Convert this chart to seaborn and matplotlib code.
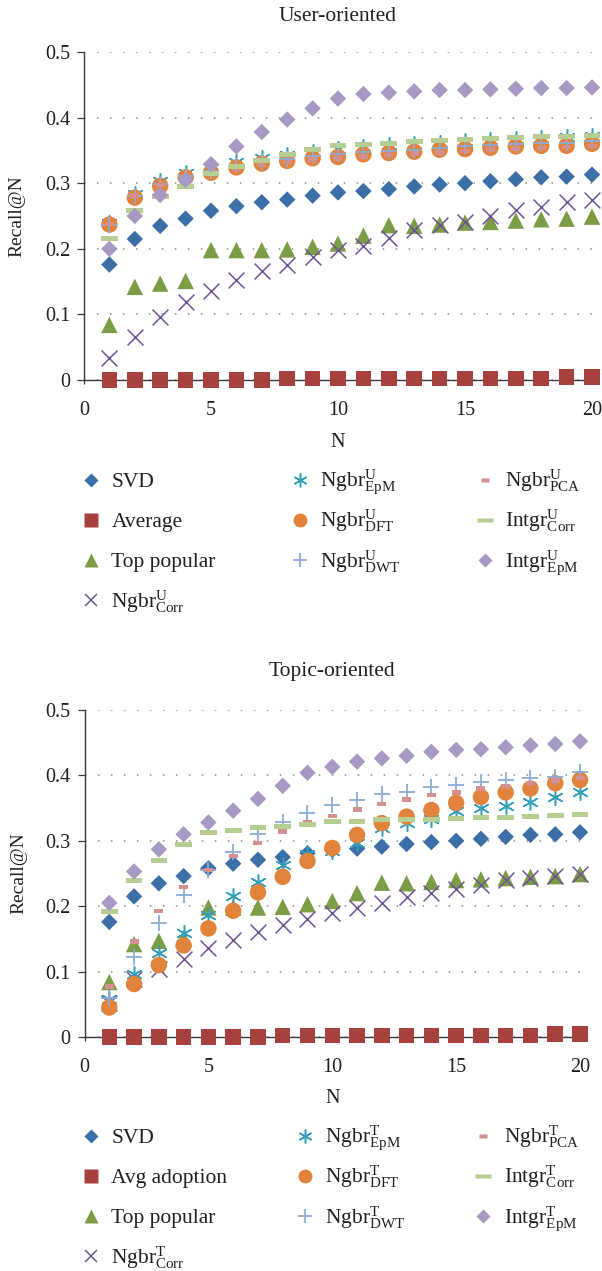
import numpy as np
import pandas as pd
import seaborn as sns
import matplotlib
matplotlib.use('Agg')
import matplotlib.pyplot as plt
from matplotlib.lines import Line2D
from matplotlib.path import Path
from matplotlib.legend_handler import HandlerLine2D

N = [1, 2, 3, 4, 5, 6, 7, 8, 9, 10, 11, 12, 13, 14, 15, 16, 17, 18, 19, 20]

# baselines, identical in both panels
svd = [0.176, 0.215, 0.235, 0.246, 0.258, 0.265, 0.271, 0.275, 0.281, 0.286,
       0.288, 0.291, 0.295, 0.298, 0.300, 0.303, 0.306, 0.309, 0.310, 0.313]
average = [0, 0, 0, 0, 0, 0, 0, 0.002, 0.002, 0.002,
           0.002, 0.002, 0.002, 0.002, 0.002, 0.002, 0.002, 0.002, 0.005, 0.005]
top_popular = [0.084, 0.142, 0.147, 0.151, 0.198, 0.198, 0.198, 0.199, 0.203, 0.208,
               0.220, 0.236, 0.235, 0.237, 0.240, 0.241, 0.243, 0.245, 0.246, 0.249]

# user-oriented
u_corr = [0.033, 0.066, 0.096, 0.119, 0.136, 0.152, 0.166, 0.175, 0.188, 0.198,
          0.204, 0.216, 0.228, 0.236, 0.241, 0.250, 0.259, 0.264, 0.272, 0.275]
u_epm = [0.240, 0.283, 0.303, 0.315, 0.323, 0.332, 0.338, 0.343, 0.348, 0.352,
         0.355, 0.358, 0.360, 0.362, 0.364, 0.366, 0.367, 0.369, 0.370, 0.372]
u_dft = [0.237, 0.278, 0.296, 0.309, 0.316, 0.324, 0.330, 0.334, 0.338, 0.340,
         0.344, 0.346, 0.348, 0.351, 0.352, 0.354, 0.356, 0.357, 0.357, 0.360]
u_dwt = [0.236, 0.280, 0.299, 0.311, 0.319, 0.327, 0.333, 0.337, 0.341, 0.344,
         0.347, 0.349, 0.351, 0.354, 0.356, 0.358, 0.359, 0.361, 0.362, 0.364]
u_pca = [0.238, 0.281, 0.297, 0.308, 0.315, 0.322, 0.328, 0.332, 0.336, 0.338,
         0.341, 0.343, 0.345, 0.347, 0.349, 0.351, 0.353, 0.354, 0.355, 0.357]
u_intgr_corr = [0.216, 0.259, 0.280, 0.295, 0.315, 0.326, 0.335, 0.343, 0.352, 0.357,
                0.359, 0.361, 0.363, 0.365, 0.367, 0.368, 0.369, 0.371, 0.371, 0.373]
u_intgr_epm = [0.200, 0.250, 0.282, 0.305, 0.329, 0.356, 0.378, 0.397, 0.414, 0.429,
               0.436, 0.438, 0.440, 0.442, 0.442, 0.443, 0.444, 0.445, 0.445, 0.446]

# topic-oriented
t_corr = [0.052, 0.088, 0.104, 0.120, 0.136, 0.148, 0.161, 0.171, 0.181, 0.189,
          0.197, 0.205, 0.214, 0.220, 0.227, 0.232, 0.240, 0.243, 0.246, 0.249]
t_epm = [0.058, 0.097, 0.128, 0.159, 0.187, 0.215, 0.237, 0.263, 0.280, 0.285,
         0.296, 0.319, 0.327, 0.334, 0.345, 0.350, 0.353, 0.360, 0.367, 0.374]
t_dft = [0.045, 0.081, 0.110, 0.140, 0.166, 0.193, 0.221, 0.245, 0.269, 0.289,
         0.309, 0.327, 0.337, 0.347, 0.358, 0.367, 0.374, 0.380, 0.388, 0.393]
t_dwt = [0.060, 0.123, 0.174, 0.217, 0.255, 0.283, 0.310, 0.328, 0.342, 0.355,
         0.363, 0.372, 0.375, 0.382, 0.385, 0.390, 0.393, 0.396, 0.398, 0.405]
t_pca = [0.077, 0.146, 0.193, 0.229, 0.255, 0.277, 0.297, 0.314, 0.328, 0.338,
         0.348, 0.356, 0.363, 0.370, 0.374, 0.380, 0.383, 0.388, 0.392, 0.396]
t_intgr_corr = [0.192, 0.240, 0.270, 0.294, 0.312, 0.315, 0.320, 0.322, 0.325, 0.329,
                0.330, 0.332, 0.333, 0.333, 0.334, 0.335, 0.336, 0.337, 0.338, 0.340]
t_intgr_epm = [0.205, 0.253, 0.287, 0.310, 0.328, 0.346, 0.364, 0.384, 0.404, 0.413,
               0.421, 0.426, 0.430, 0.436, 0.439, 0.440, 0.443, 0.446, 0.448, 0.452]

labels_user = ['SVD', 'Average', 'Top popular',
               r'Ngbr$^{\mathrm{U}}_{\mathrm{Corr}}$', r'Ngbr$^{\mathrm{U}}_{\mathrm{EpM}}$',
               r'Ngbr$^{\mathrm{U}}_{\mathrm{DFT}}$', r'Ngbr$^{\mathrm{U}}_{\mathrm{DWT}}$',
               r'Ngbr$^{\mathrm{U}}_{\mathrm{PCA}}$', r'Intgr$^{\mathrm{U}}_{\mathrm{Corr}}$',
               r'Intgr$^{\mathrm{U}}_{\mathrm{EpM}}$']
labels_topic = ['SVD', 'Avg adoption', 'Top popular',
                r'Ngbr$^{\mathrm{T}}_{\mathrm{Corr}}$', r'Ngbr$^{\mathrm{T}}_{\mathrm{EpM}}$',
                r'Ngbr$^{\mathrm{T}}_{\mathrm{DFT}}$', r'Ngbr$^{\mathrm{T}}_{\mathrm{DWT}}$',
                r'Ngbr$^{\mathrm{T}}_{\mathrm{PCA}}$', r'Intgr$^{\mathrm{T}}_{\mathrm{Corr}}$',
                r'Intgr$^{\mathrm{T}}_{\mathrm{EpM}}$']

xticks = [0, 5, 10, 15, 20]
yticks = [0, 0.1, 0.2, 0.3, 0.4, 0.5]
ytick_labels = ['0', '0.1', '0.2', '0.3', '0.4', '0.5']

# short bars used by the PCA and Intgr-Corr series
pca_bar = Path([(-1, -0.5), (1, -0.5), (1, 0.5), (-1, 0.5), (-1, -0.5)], closed=True)
corr_bar = Path([(-1, -0.3), (1, -0.3), (1, 0.3), (-1, 0.3), (-1, -0.3)], closed=True)

# marker, colour, scatter size, legend marker size, line width (line-art markers only)
styles = [
    ('D', '#3C6EA7', 70, 7.0, 0),
    ('s', '#A8413E', 125, 10.0, 0),
    ('^', '#7A9D45', 140, 9.5, 0),
    ('x', '#6C5496', 130, 8.5, 1.1),
    ((6, 2, 0), '#339FBB', 125, 10.0, 1.1),
    ('o', '#E2833B', 140, 10.0, 0),
    ('+', '#8EABD7', 120, 9.5, 1.3),
    (pca_bar, '#D48F8E', 42, 6.0, 0),
    (corr_bar, '#B4CF91', 144, 11.0, 0),
    ('D', '#A898C4', 70, 7.0, 0),
]

TXT = '#231F20'

sns.set_theme(style='white')
plt.rcParams['font.family'] = ['Liberation Serif', 'DejaVu Serif']
plt.rcParams['mathtext.fontset'] = 'custom'
plt.rcParams['mathtext.rm'] = 'Liberation Serif'
plt.rcParams['mathtext.it'] = 'Liberation Serif:italic'
plt.rcParams['mathtext.bf'] = 'Liberation Serif:bold'
plt.rcParams['text.color'] = TXT


class CenteredMarker(HandlerLine2D):
    # put the legend marker level with the middle of the capitals
    def create_artists(self, legend, orig_handle, xdescent, ydescent, width, height, fontsize, trans):
        arts = super().create_artists(legend, orig_handle, xdescent, ydescent, width, height, fontsize, trans)
        for a in arts:
            a.set_ydata(np.full(len(a.get_xdata()), 0.33 * fontsize))
        return arts


fig = plt.figure(figsize=(6.02, 12.71), dpi=100)

panels = [
    ('User-oriented', labels_user,
     [svd, average, top_popular, u_corr, u_epm, u_dft, u_dwt, u_pca, u_intgr_corr, u_intgr_epm],
     [0.1395, 0.7010, 0.8439, 0.2581], 22, 0.6377, 3.4),
    ('Topic-oriented', labels_topic,
     [svd, average, top_popular, t_corr, t_epm, t_dft, t_dwt, t_pca, t_intgr_corr, t_intgr_epm],
     [0.1404, 0.1841, 0.8231, 0.2573], 24.5, 0.1216, 3.1),
]

for title, labels, series, rect, tpad, leg_top, colsp in panels:
    ax = fig.add_axes(rect)
    df = pd.DataFrame({
        'N': N * len(series),
        'recall': np.concatenate(series),
        'method': np.repeat(labels, len(N)),
    })
    handles = []
    for i, (lab, (marker, col, s, ms, lw)) in enumerate(zip(labels, styles)):
        sub = df[df['method'] == lab]
        if lw:
            kw = dict(linewidth=lw)
        else:
            kw = dict(edgecolor='none', linewidth=0)
        sns.scatterplot(data=sub, x='N', y='recall', marker=marker, s=s, color=col,
                        ax=ax, clip_on=False, zorder=3 + i, legend=False, **kw)
        if lw:
            h = Line2D([], [], linestyle='none', marker=marker, markersize=ms,
                       color=col, markeredgewidth=lw)
        else:
            h = Line2D([], [], linestyle='none', marker=marker, markersize=ms,
                       markerfacecolor=col, markeredgecolor='none')
        handles.append(h)

    ax.set_xlim(0, 20)
    ax.set_ylim(0, 0.5)
    ax.set_xticks(xticks)
    ax.set_yticks(yticks)
    ax.set_yticklabels(ytick_labels)
    ax.yaxis.grid(True, linestyle=(0, (1, 7.5)), linewidth=1.1, color='#8c8c8c')
    ax.xaxis.grid(False)
    ax.spines['top'].set_visible(False)
    ax.spines['right'].set_visible(False)
    for side in ['left', 'bottom']:
        ax.spines[side].set_color('#3a3a3a')
        ax.spines[side].set_linewidth(1.0)
    ax.tick_params(axis='y', left=True, direction='out', length=5, width=0.9,
                   pad=5, labelsize=14.5, color='#3a3a3a', labelcolor=TXT)
    ax.tick_params(axis='x', bottom=True, direction='out', length=3, width=0.9,
                   pad=12, labelsize=14.5, color='#3a3a3a', labelcolor=TXT)
    ax.set_title(title, fontsize=15.5, pad=tpad, color=TXT)
    ax.set_xlabel('N', fontsize=14.5, color=TXT)
    ax.set_ylabel('Recall@N', fontsize=14, color=TXT)
    ax.xaxis.set_label_coords(0.5, -0.16)
    ax.yaxis.set_label_coords(-0.115, 0.5)

    # handleheight fixes every row to the same height so the three columns line up
    fig.legend(handles, labels, loc='upper left', bbox_to_anchor=(0.1333, leg_top),
               ncol=3, frameon=False, fontsize=15.5, handlelength=1.0, handleheight=2.49,
               handletextpad=0.45, columnspacing=colsp, labelspacing=0.0,
               borderpad=0, borderaxespad=0, handler_map={Line2D: CenteredMarker()})

fig.savefig('out.png', dpi=100)
